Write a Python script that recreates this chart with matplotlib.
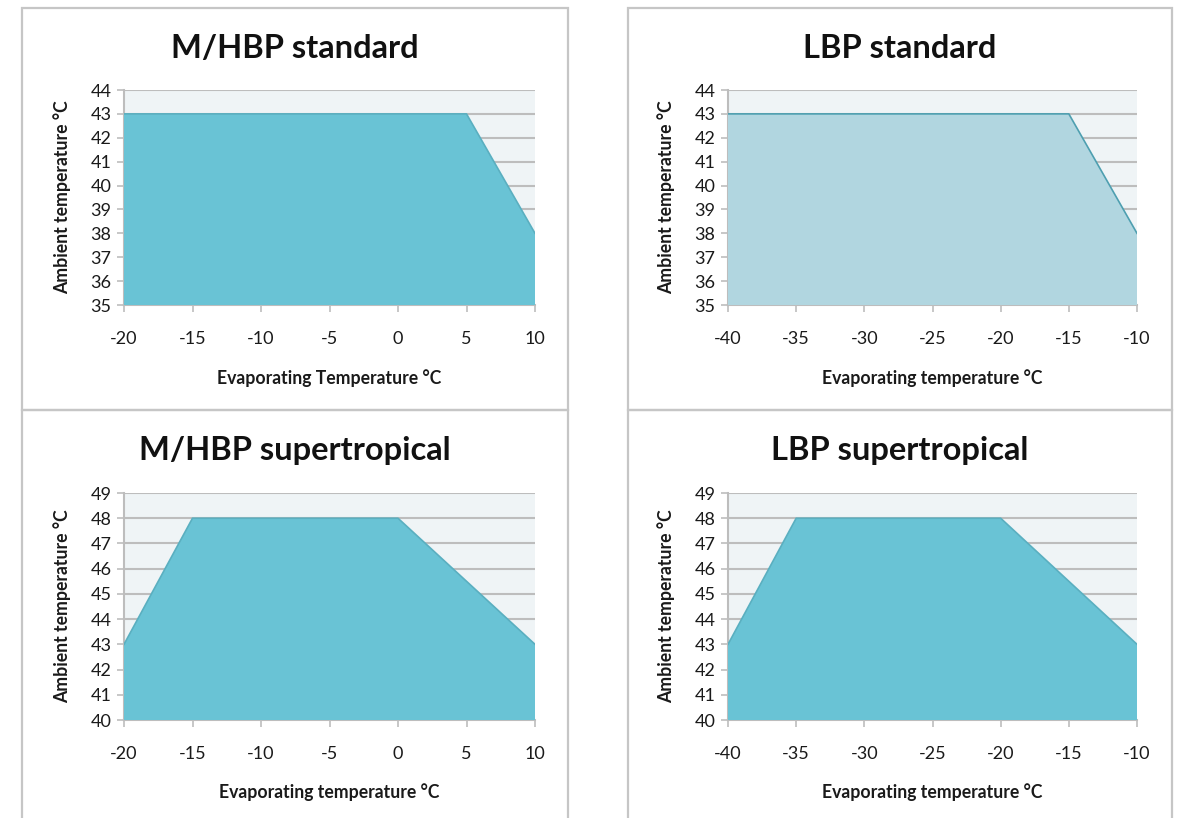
import matplotlib
matplotlib.use("Agg")
import matplotlib.pyplot as plt
from matplotlib.patches import Rectangle

plt.rcParams['font.family'] = ['Lato', 'DejaVu Sans']

# ---- data ----
titles = ["M/HBP standard", "LBP standard", "M/HBP supertropical", "LBP supertropical"]
xlabels = ["Evaporating Temperature °C", "Evaporating temperature °C",
           "Evaporating temperature °C", "Evaporating temperature °C"]
ylabel = "Ambient temperature °C"

mhbp_std_x = [-20, 5, 10]
mhbp_std_y = [43, 43, 38]
lbp_std_x = [-40, -15, -10]
lbp_std_y = [43, 43, 38]
mhbp_trop_x = [-20, -15, 0, 10]
mhbp_trop_y = [43, 48, 48, 43]
lbp_trop_x = [-40, -35, -20, -10]
lbp_trop_y = [43, 48, 48, 43]

mhbp_xticks = [-20, -15, -10, -5, 0, 5, 10]
lbp_xticks = [-40, -35, -30, -25, -20, -15, -10]
std_yticks = list(range(35, 45))
trop_yticks = list(range(40, 50))

W, H = 1179, 818
fig = plt.figure(figsize=(W / 100, H / 100), dpi=100)

def fx(px):
    return px / W

def fy(py):
    return 1 - py / H

# panel borders
border_col = "#C6C6C6"
for (x0, y0, x1, y1) in [(22, 8, 568, 410), (628, 8, 1172, 410),
                         (22, 410, 568, 840), (628, 410, 1172, 840)]:
    fig.patches.append(Rectangle((fx(x0), fy(y1)), fx(x1) - fx(x0), fy(y0) - fy(y1),
                                 transform=fig.transFigure, fill=False,
                                 edgecolor=border_col, linewidth=1.6, zorder=0))

panels = [
    dict(x=mhbp_std_x, y=mhbp_std_y, xt=mhbp_xticks, yt=std_yticks,
         ax_px=(124, 90, 535, 305), panel=(22, 568), title_y=48, xlab_y=378,
         fill="#69C3D5", edge="#5AAFC0"),
    dict(x=lbp_std_x, y=lbp_std_y, xt=lbp_xticks, yt=std_yticks,
         ax_px=(728, 90, 1137, 305), panel=(628, 1172), title_y=48, xlab_y=378,
         fill="#B1D6E0", edge="#4E9FB0"),
    dict(x=mhbp_trop_x, y=mhbp_trop_y, xt=mhbp_xticks, yt=trop_yticks,
         ax_px=(124, 493, 535, 720), panel=(22, 568), title_y=451, xlab_y=792,
         fill="#69C3D5", edge="#5AAFC0"),
    dict(x=lbp_trop_x, y=lbp_trop_y, xt=lbp_xticks, yt=trop_yticks,
         ax_px=(728, 493, 1137, 720), panel=(628, 1172), title_y=451, xlab_y=792,
         fill="#69C3D5", edge="#5AAFC0"),
]

grid_col = "#BDBDBD"
for i, p in enumerate(panels):
    l, t, r, b = p["ax_px"]
    ax = fig.add_axes([fx(l), fy(b), fx(r) - fx(l), fy(t) - fy(b)])
    ax.set_facecolor("#EFF4F6")
    ax.fill_between(p["x"], p["y"], p["yt"][0], facecolor=p["fill"],
                    edgecolor="none", zorder=3)
    ax.plot(p["x"], p["y"], color=p["edge"], linewidth=1.2, zorder=4)
    ax.set_xlim(p["xt"][0], p["xt"][-1])
    ax.set_ylim(p["yt"][0], p["yt"][-1])
    ax.set_xticks(p["xt"])
    ax.set_yticks(p["yt"])
    ax.set_xticklabels([str(v) for v in p["xt"]])
    ax.set_yticklabels([str(v) for v in p["yt"]])
    ax.yaxis.grid(True, color=grid_col, linewidth=1.5, zorder=1)
    ax.set_axisbelow(True)
    for s in ["top", "right"]:
        ax.spines[s].set_visible(False)
    for s in ["left", "bottom"]:
        ax.spines[s].set_color(grid_col)
        ax.spines[s].set_linewidth(1.5)
    ax.tick_params(axis="x", direction="out", length=5, width=1.2, color=grid_col,
                   pad=14, labelsize=13, labelcolor="#1a1a1a")
    ax.tick_params(axis="y", direction="out", length=5, width=1.2, color=grid_col,
                   pad=4, labelsize=13, labelcolor="#1a1a1a")
    # title
    pl, pr = p["panel"]
    fig.text(fx((pl + pr) / 2), fy(p["title_y"]), titles[i], ha="center", va="center",
             fontsize=23.5, fontweight="bold", color="#111111")
    # x label
    fig.text(fx((l + r) / 2), fy(p["xlab_y"]), xlabels[i], ha="center", va="center",
             fontsize=12.7, fontweight="bold", color="#1a1a1a")
    # y label
    fig.text(fx(l - 62), fy((t + b) / 2), ylabel, ha="center", va="center",
             rotation=90, fontsize=12.7, fontweight="bold", color="#1a1a1a")

fig.savefig("out.png", dpi=100, facecolor="white")
